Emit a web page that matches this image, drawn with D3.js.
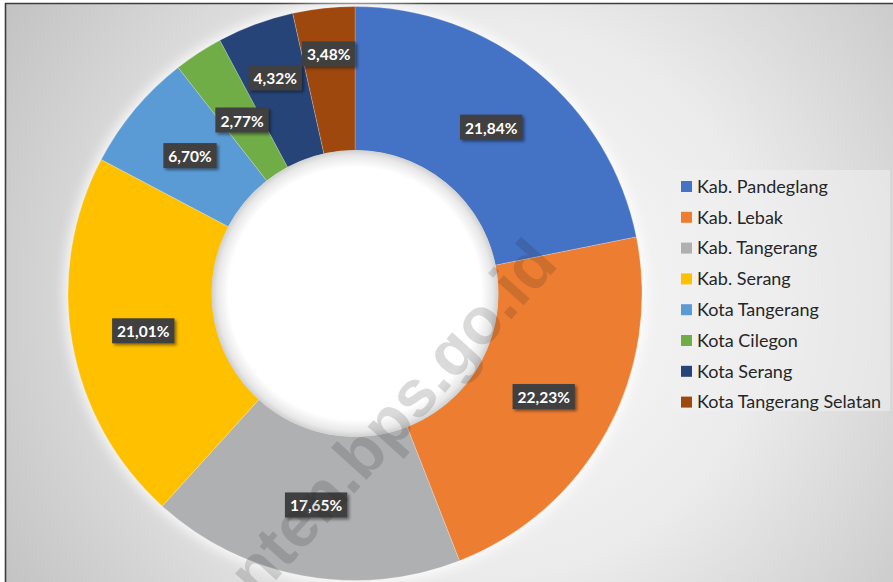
<!DOCTYPE html>
<html>
<head>
<meta charset="utf-8">
<script src="https://cdn.jsdelivr.net/npm/d3@7"></script>
<style>
  html, body { margin: 0; padding: 0; background: #fff; }
  svg { display: block; }
</style>
</head>
<body>
<svg id="chart" width="893" height="582"></svg>
<script>
// data
const categories = ["Kab. Pandeglang", "Kab. Lebak", "Kab. Tangerang", "Kab. Serang",
  "Kota Tangerang", "Kota Cilegon", "Kota Serang", "Kota Tangerang Selatan"];
const values = [21.84, 22.23, 17.65, 21.01, 6.70, 2.77, 4.32, 3.48];
const colors = ["#4472C4", "#ED7D31", "#AFB0B2", "#FFC000", "#5B9BD5", "#70AD47", "#264478", "#9E480E"];

const width = 893, height = 582;
const cx = 355, cy = 293.5;
const outerR = 287, innerR = 143;

// small slices had their labels moved by Excel so they don't overlap
const labelShift = { "Kota Tangerang Selatan": 26, "Kota Serang": 15, "Kota Cilegon": -8 };

const svg = d3.select("#chart");
const defs = svg.append("defs");

// background gradient
const bg = defs.append("radialGradient").attr("id", "bg")
  .attr("gradientUnits", "userSpaceOnUse")
  .attr("cx", 490).attr("cy", 300).attr("r", 620);
bg.append("stop").attr("offset", 0).attr("stop-color", "#fbfbfb");
bg.append("stop").attr("offset", 0.45).attr("stop-color", "#ebebeb");
bg.append("stop").attr("offset", 1).attr("stop-color", "#bbbbbb");

// hole: white with a soft grey rim
const hole = defs.append("radialGradient").attr("id", "hole");
hole.append("stop").attr("offset", 0).attr("stop-color", "#fff");
hole.append("stop").attr("offset", 0.88).attr("stop-color", "#fff");
hole.append("stop").attr("offset", 0.96).attr("stop-color", "#e8e8e8");
hole.append("stop").attr("offset", 1).attr("stop-color", "#cfcfcf");

const glow = defs.append("filter").attr("id", "glow")
  .attr("x", "-20%").attr("y", "-20%").attr("width", "140%").attr("height", "140%");
glow.append("feGaussianBlur").attr("stdDeviation", 6);

const shadow = defs.append("filter").attr("id", "shadow")
  .attr("x", "-20%").attr("y", "-30%").attr("width", "150%").attr("height", "170%");
shadow.append("feDropShadow").attr("dx", 2).attr("dy", 2).attr("stdDeviation", 1.5)
  .attr("flood-color", "#000").attr("flood-opacity", 0.45);

svg.append("rect").attr("x", 5).attr("y", 3).attr("width", width).attr("height", height)
  .attr("fill", "url(#bg)");

// frame (top and left only visible)
svg.append("line").attr("x1", 5).attr("x2", width).attr("y1", 3.5).attr("y2", 3.5)
  .attr("stroke", "#3d3d3d").attr("stroke-width", 1.6);
svg.append("line").attr("x1", 5.5).attr("x2", 5.5).attr("y1", 3).attr("y2", height)
  .attr("stroke", "#3d3d3d").attr("stroke-width", 1.6);

// legend panel
const legendX = 673, legendY = 170;
svg.append("rect").attr("x", legendX).attr("y", legendY).attr("width", 217).attr("height", 241)
  .attr("fill", "#f0f0f0").attr("opacity", 0.55);

const pie = d3.pie().value(d => d.value).sort(null);
const arc = d3.arc().innerRadius(innerR).outerRadius(outerR);
const rows = categories.map((c, i) => ({ name: c, value: values[i], color: colors[i] }));
const arcs = pie(rows);

const g = svg.append("g").attr("transform", `translate(${cx},${cy})`);

// soft light halo around the ring
g.append("circle").attr("r", outerR + 4).attr("fill", "#ffffff").attr("opacity", 0.8)
  .attr("filter", "url(#glow)");

g.selectAll("path.slice")
  .data(arcs)
  .join("path")
  .attr("class", "slice")
  .attr("d", arc)
  .attr("fill", d => d.data.color)
  .attr("stroke", "#ffffff")
  .attr("stroke-opacity", 0.35)
  .attr("stroke-width", 0.6);

g.append("circle").attr("r", innerR + 0.5).attr("fill", "url(#hole)");

// watermark (runs off the bottom edge like in the original)
svg.append("text")
  .attr("transform", "translate(366,446) rotate(-48)")
  .attr("text-anchor", "middle")
  .attr("dominant-baseline", "central")
  .style("font-family", "'Liberation Sans', Arial, sans-serif")
  .style("font-weight", "bold")
  .style("font-size", "66px")
  .attr("fill", "#222")
  .attr("opacity", 0.16)
  .text("banten.bps.go.id");

// data labels
const fmt = v => v.toFixed(2).replace(".", ",") + "%";
const labels = g.selectAll("g.lab")
  .data(arcs)
  .join("g")
  .attr("class", "lab")
  .attr("transform", d => {
    const a = (d.startAngle + d.endAngle) / 2;
    const r = (innerR + outerR) / 2 + (labelShift[d.data.name] || 0);
    return `translate(${Math.sin(a) * r},${-Math.cos(a) * r})`;
  });

labels.each(function(d) {
  const lab = d3.select(this);
  const box = lab.append("rect").attr("fill", "#3f3f3f").attr("filter", "url(#shadow)");
  const t = lab.append("text")
    .attr("text-anchor", "middle")
    .attr("dominant-baseline", "central")
    .attr("y", 0.5)
    .style("font-family", "Lato, 'Open Sans', sans-serif")
    .style("font-weight", "bold")
    .style("font-size", "15.5px")
    .attr("fill", "#ffffff")
    .text(fmt(d.data.value));
  const w = t.node().getComputedTextLength() + 10;
  box.attr("x", -w / 2).attr("y", -12.5).attr("width", w).attr("height", 25);
});

// legend
const legend = svg.append("g").attr("transform", `translate(${legendX + 8},${legendY + 16.5})`);
const item = legend.selectAll("g")
  .data(rows)
  .join("g")
  .attr("transform", (d, i) => `translate(0,${i * 30.8})`);
item.append("rect").attr("x", 0).attr("y", -5.5).attr("width", 11).attr("height", 11)
  .attr("fill", d => d.color);
item.append("text")
  .attr("x", 16)
  .attr("dy", "0.35em")
  .style("font-family", "Lato, 'Open Sans', sans-serif")
  .style("font-size", "18px")
  .attr("fill", "#262626")
  .text(d => d.name);
</script>
</body>
</html>
